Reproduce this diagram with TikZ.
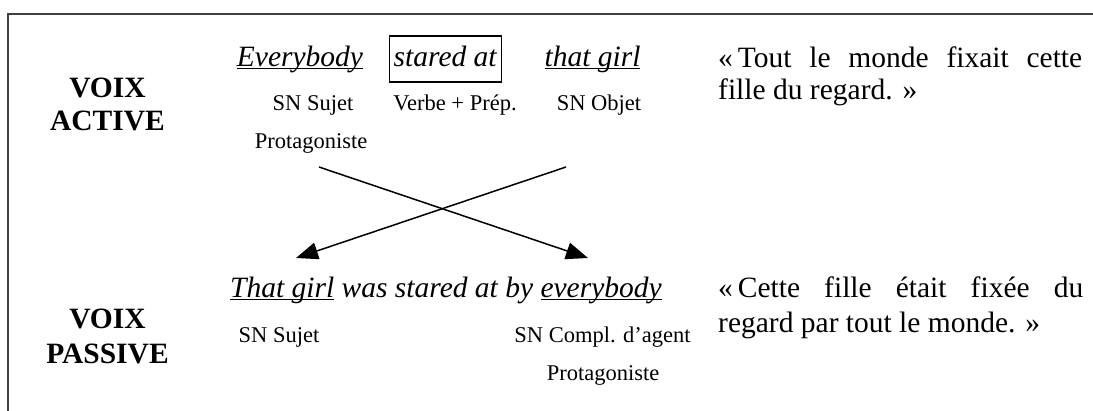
\documentclass[tikz,border=0pt]{standalone}
\usepackage{fontspec}
\setmainfont{Liberation Serif}
\usetikzlibrary{arrows.meta}
\newcommand\myul[1]{\setbox0\hbox{#1}\rlap{\rule[-3.2pt]{\wd0}{1.1pt}}\box0\relax}
\tikzset{
  big/.style={font=\fontsize{29.5}{34}\selectfont, inner sep=0pt, anchor=base},
  bigb/.style={font=\fontsize{29.5}{34}\selectfont\bfseries, inner sep=0pt, anchor=base},
  small/.style={font=\fontsize{22.5}{26}\selectfont, inner sep=0pt, anchor=base},
  quote/.style={font=\fontsize{29.5}{34}\selectfont, inner sep=0pt, anchor=base west},
  verbbox/.style={draw, line width=1.3pt, text height=21pt, text depth=7pt, inner xsep=4.5pt, inner ysep=9pt},
  crossarrow/.style={line width=1.5pt, -{Triangle[length=22pt,width=17pt]}},
  frameline/.style={line width=1.5pt, draw=black!75}
}
\begin{document}
\begin{tikzpicture}[x=1pt,y=-1pt]
\useasboundingbox (0,0) rectangle (1093,410);
\draw[frameline] (1094,14) -- (8,14) -- (8,411);
% active
\node[bigb] (voixA) at (107.5,97) {VOIX};
\node[bigb] (actA) at (107.5,130) {ACTIVE};
\node[big] (ev) at (300,66) {\myul{\textit{Everybody}}};
\node[big,verbbox] (st) at (445.5,66) {\textit{stared at}};
\node[big] (tg) at (592.5,66) {\myul{\textit{that girl}}};
\node[small] (snsA) at (313,110) {SN Sujet};
\node[small] (vp) at (455,110) {Verbe + Prép.};
\node[small] (snoA) at (599,110) {SN Objet};
\node[small] (protA) at (311,148) {Protagoniste};
\node[quote] (qa1) at (718,67) {\makebox[364pt][s]{«\,Tout le monde fixait cette}};
\node[quote] (qa2) at (718,99) {fille du regard. »};
% passive
\node[bigb] (voixP) at (107.5,328) {VOIX};
\node[bigb] (pasP) at (107.5,363) {PASSIVE};
\node[big, anchor=base west] (ps) at (230,297) {\itshape\myul{That girl} was stared at by \myul{everybody}};
\node[small] (snsP) at (279,342) {SN Sujet};
\node[small] (sncP) at (602.5,342) {SN Compl. d’agent};
\node[small] (protP) at (603,380) {Protagoniste};
\node[quote] (qp1) at (718,297) {\makebox[365pt][s]{«\,Cette fille était fixée du}};
\node[quote] (qp2) at (718,332) {regard par tout le monde. »};
% arrows
\coordinate (s1) at (319,167);
\coordinate (e1) at (588,258);
\coordinate (s2) at (566,167);
\coordinate (e2) at (296,258);
\draw[crossarrow] (s1) -- (e1);
\draw[crossarrow] (s2) -- (e2);
\end{tikzpicture}
\end{document}
